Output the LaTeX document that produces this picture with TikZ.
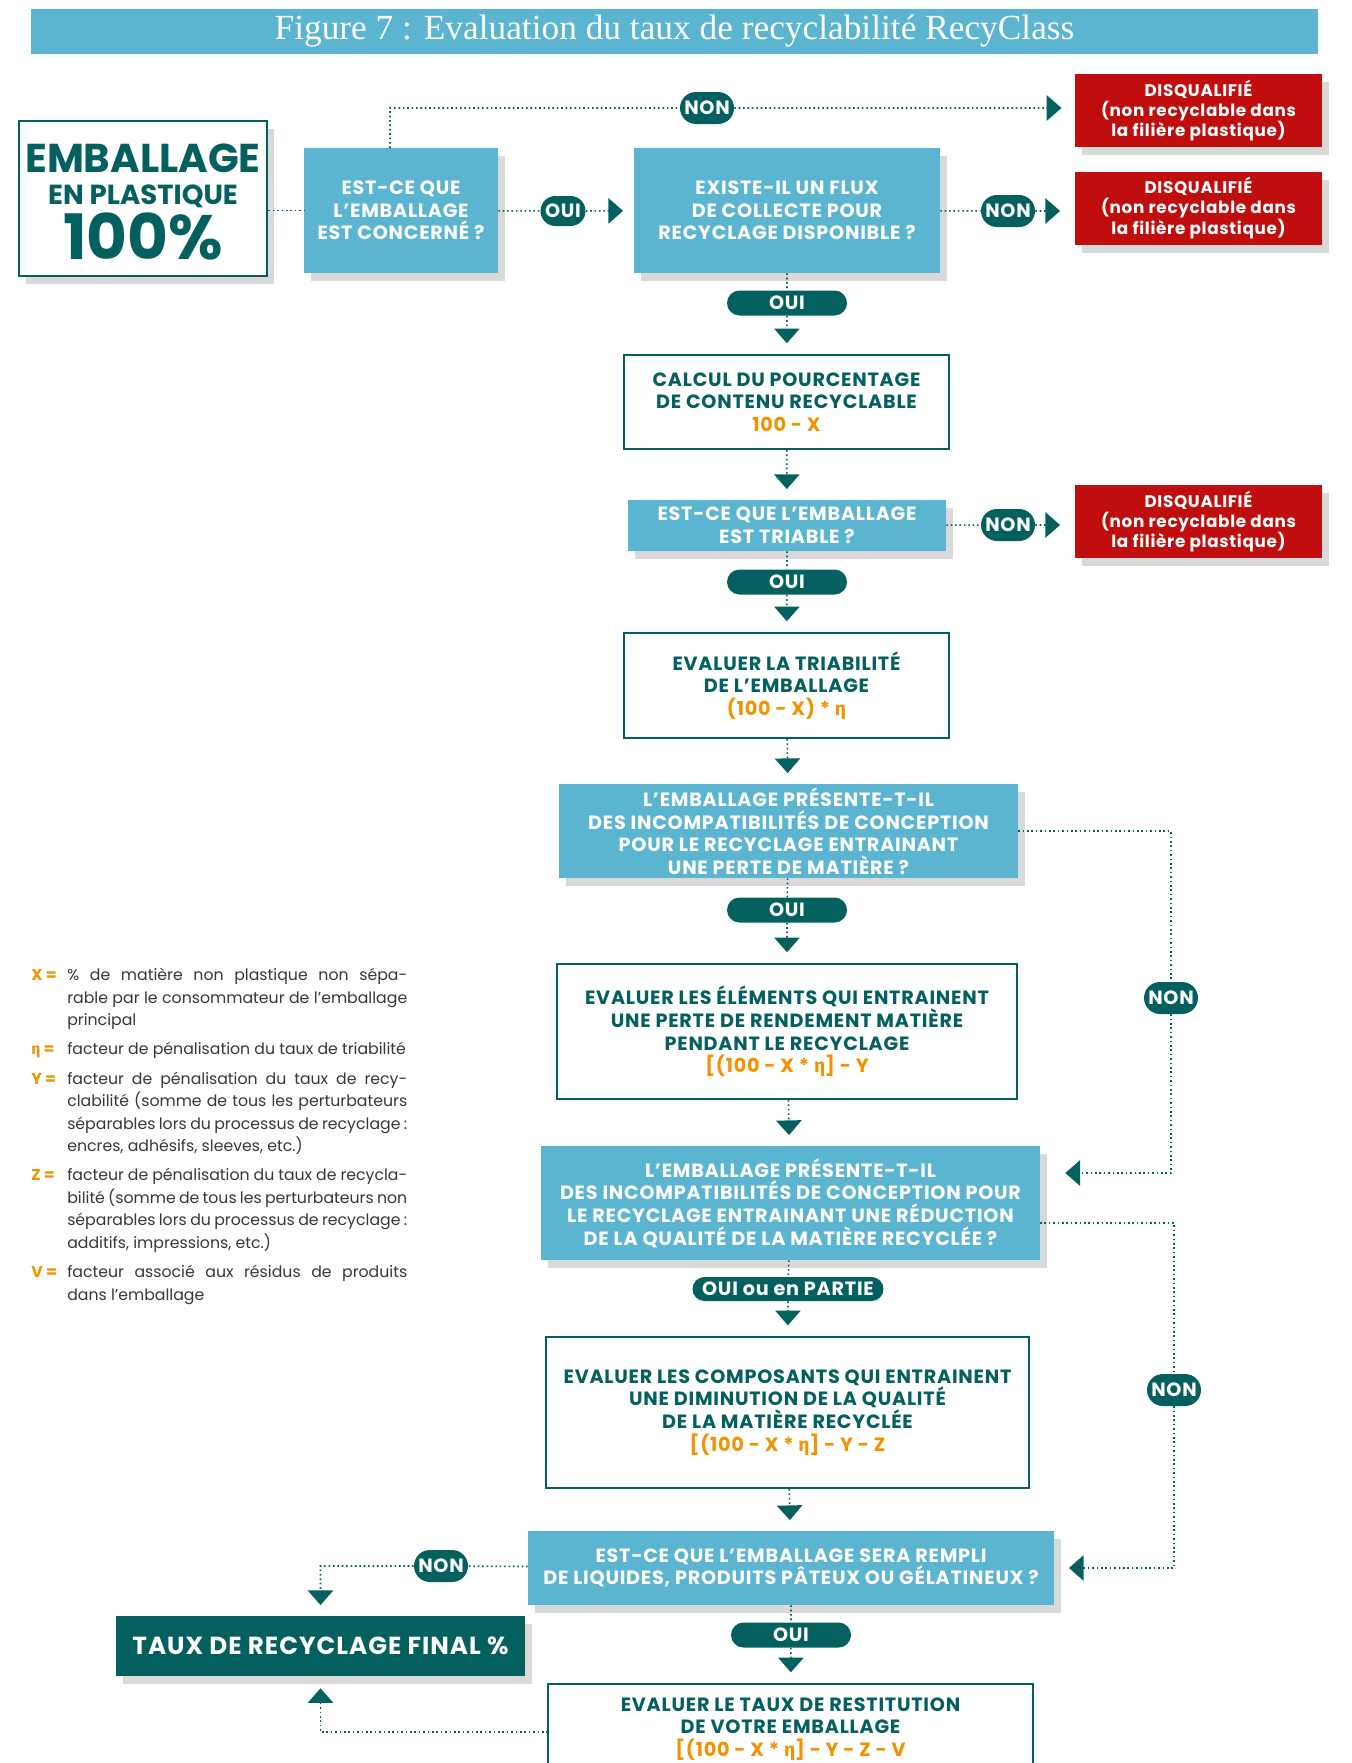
\documentclass[tikz,border=0pt]{standalone}
\usepackage{fontspec}
\setmainfont{Poppins}
\newfontfamily\titlefont{Liberation Serif}
\newfontfamily\grkfont{Fira Sans}
\newfontfamily\capsfont[LetterSpace=4]{Poppins}
\usepackage{xcolor}
\usepackage{tikz}
\usetikzlibrary{arrows.meta, positioning, calc, shadows, shapes.misc}
\definecolor{RecyBlue}{RGB}{91, 181, 209}
\definecolor{RecyTeal}{RGB}{3, 96, 95}
\definecolor{RecyRed}{RGB}{192, 13, 13}
\definecolor{RecyOrange}{RGB}{243, 146, 0}
\definecolor{RecyShadow}{RGB}{217, 217, 217}
\definecolor{RecyText}{RGB}{55, 55, 55}
\newdimen\pxu \pxu=0.75pt
\newcommand{\fml}[1]{\textcolor{RecyOrange}{#1}}
\newcommand{\etag}{{\grkfont η}}
\newcommand{\legendlab}[1]{\hangindent=27pt\hangafter=1\makebox[27pt][l]{\textcolor{RecyOrange}{\bfseries #1}}}

\begin{document}
\begin{tikzpicture}[x=0.75pt,y=-0.75pt,
  boxshadow/.style={drop shadow={shadow xshift=5.5pt, shadow yshift=-6pt, fill=RecyShadow, opacity=1}},
  qbox/.style={fill=RecyBlue, text=white, align=center, inner sep=0pt, boxshadow,
    font=\capsfont\bfseries\fontsize{14.4}{16.9}\selectfont},
  evalbox/.style={draw=RecyTeal, line width=1.6pt, fill=white, text=RecyTeal, align=center, inner sep=0pt,
    font=\capsfont\bfseries\fontsize{14.4}{16.9}\selectfont},
  disqbox/.style={fill=RecyRed, text=white, align=center, boxshadow, minimum width=247\pxu, minimum height=73\pxu,
    font=\capsfont\bfseries\fontsize{12.6}{15.2}\selectfont},
  pill/.style={rounded rectangle, fill=RecyTeal, text=white, inner sep=0pt,
    font=\capsfont\bfseries\fontsize{14.4}{15}\selectfont},
  link/.style={draw=RecyTeal, line width=1.2pt, dash pattern=on 1.2pt off 2.1pt},
  arrowend/.style={-{Triangle[width=19pt,length=11pt]}, shorten >=8pt}]
  \useasboundingbox (0,0) rectangle (1352,1763);
  \clip (0,0) rectangle (1352,1763);

  % title
  \node[fill=RecyBlue, minimum width=1287\pxu, minimum height=45\pxu, text=white,
    font=\titlefont\fontsize{26.5}{30}\selectfont] (title) at (674.5,31.5)
    {Figure 7 : Evaluation du taux de recyclabilité RecyClass};

  % start box
  \node[draw=RecyTeal, line width=2.2pt, fill=white, boxshadow, minimum width=248\pxu, minimum height=155\pxu] (emb) at (143,198.5) {};
  \node[anchor=base, text=RecyTeal, font=\bfseries\fontsize{30.2}{30}\selectfont] (embA) at (143,172) {EMBALLAGE};
  \node[anchor=base, text=RecyTeal, font=\bfseries\fontsize{20.7}{20}\selectfont] (embB) at (143,204) {EN PLASTIQUE};
  \node[anchor=base, text=RecyTeal, font=\bfseries\fontsize{47}{47}\selectfont] (embC) at (143,259) {100\%};

  % questions and steps
  \node[qbox, minimum width=194\pxu, minimum height=125\pxu] (Q1) at (401,210.5) {EST-CE QUE\\L’EMBALLAGE\\EST CONCERNÉ ?};
  \node[qbox, minimum width=306\pxu, minimum height=125\pxu] (Q2) at (787,210.5) {EXISTE-IL UN FLUX\\DE COLLECTE POUR\\RECYCLAGE DISPONIBLE ?};
  \node[disqbox] (D1) at (1198.5,110.5) {DISQUALIFIÉ\\(non recyclable dans\\la filière plastique)};
  \node[disqbox] (D2) at (1198.5,208) {DISQUALIFIÉ\\(non recyclable dans\\la filière plastique)};
  \node[evalbox, minimum width=325\pxu, minimum height=94\pxu] (calc) at (786.5,402) {CALCUL DU POURCENTAGE\\DE CONTENU RECYCLABLE\\\fml{100 - X}};
  \node[qbox, minimum width=318\pxu, minimum height=51\pxu] (Q3) at (787,525.5) {EST-CE QUE L’EMBALLAGE\\EST TRIABLE ?};
  \node[disqbox] (D3) at (1198.5,521.5) {DISQUALIFIÉ\\(non recyclable dans\\la filière plastique)};
  \node[evalbox, minimum width=325\pxu, minimum height=105\pxu] (eval1) at (786.5,685.5) {EVALUER LA TRIABILITÉ\\DE L’EMBALLAGE\\\fml{(100 - X) * \etag}};
  \node[qbox, minimum width=459\pxu, minimum height=94\pxu] (Q4) at (788.5,831) {L’EMBALLAGE PRÉSENTE-T-IL\\DES INCOMPATIBILITÉS DE CONCEPTION\\POUR LE RECYCLAGE ENTRAINANT\\UNE PERTE DE MATIÈRE ?};
  \node[evalbox, minimum width=460\pxu, minimum height=135\pxu] (eval2) at (787,1031.5) {EVALUER LES ÉLÉMENTS QUI ENTRAINENT\\UNE PERTE DE RENDEMENT MATIÈRE\\PENDANT LE RECYCLAGE\\\fml{[(100 - X * \etag] - Y}};
  \node[qbox, minimum width=499\pxu, minimum height=114\pxu] (Q5) at (790.5,1203) {L’EMBALLAGE PRÉSENTE-T-IL\\DES INCOMPATIBILITÉS DE CONCEPTION POUR\\LE RECYCLAGE ENTRAINANT UNE RÉDUCTION\\DE LA QUALITÉ DE LA MATIÈRE RECYCLÉE ?};
  \node[evalbox, minimum width=483\pxu, minimum height=151\pxu] (eval3) at (787.5,1412.5) {EVALUER LES COMPOSANTS QUI ENTRAINENT\\UNE DIMINUTION DE LA QUALITÉ\\DE LA MATIÈRE RECYCLÉE\\\fml{[(100 - X * \etag] - Y - Z}};
  \node[qbox, minimum width=526\pxu, minimum height=74\pxu] (Q6) at (791,1568) {EST-CE QUE L’EMBALLAGE SERA REMPLI\\DE LIQUIDES, PRODUITS PÂTEUX OU GÉLATINEUX ?};
  \node[fill=RecyTeal, text=white, boxshadow, minimum width=409\pxu, minimum height=60\pxu,
    font=\capsfont\bfseries\fontsize{18.5}{18}\selectfont] (final) at (320.5,1646) {TAUX DE RECYCLAGE FINAL \%};
  \node[evalbox, anchor=north, minimum width=485\pxu, minimum height=90\pxu] (eval4) at (790.5,1683) {EVALUER LE TAUX DE RESTITUTION\\DE VOTRE EMBALLAGE\\\fml{[(100 - X * \etag] - Y - Z - V}};

  % answers
  \node[pill, minimum width=45\pxu, minimum height=30\pxu] (oui0) at (563,211) {OUI};
  \node[pill, minimum width=54\pxu, minimum height=32\pxu] (non0) at (707,108) {NON};
  \node[pill, minimum width=54\pxu, minimum height=32\pxu] (non1) at (1008,211) {NON};
  \node[pill, minimum width=120\pxu, minimum height=25\pxu] (oui1) at (787,303) {OUI};
  \node[pill, minimum width=54\pxu, minimum height=32\pxu] (non2) at (1008,525) {NON};
  \node[pill, minimum width=120\pxu, minimum height=25\pxu] (oui2) at (787,582) {OUI};
  \node[pill, minimum width=120\pxu, minimum height=25\pxu] (oui3) at (787,910) {OUI};
  \node[pill, minimum width=54\pxu, minimum height=32\pxu] (non3) at (1171,998) {NON};
  \node[pill, minimum width=191\pxu, minimum height=24\pxu] (ouiP) at (788,1289) {OUI ou en PARTIE};
  \node[pill, minimum width=54\pxu, minimum height=32\pxu] (non4) at (1174,1390) {NON};
  \node[pill, minimum width=54\pxu, minimum height=32\pxu] (non5) at (441,1566) {NON};
  \node[pill, minimum width=120\pxu, minimum height=25\pxu] (oui4) at (791,1635) {OUI};

  \coordinate (out1) at (390,148);
  \coordinate (in5) at (1040,1173);
  \coordinate (out5) at (1040,1223);
  \coordinate (out8) at (548,1732);

  % connectors
  \draw[link] (emb.east |- Q1.west) -- (Q1.west);
  \draw[link, arrowend] (Q1) -- (oui0) -- (Q2);
  \draw[link, arrowend, shorten >=10pt] (out1) |- (non0) -- (non0 -| D1.west);
  \draw[link, arrowend, shorten >=11pt] (Q2) -- (non1) -- (non1 -| D2.west);
  \draw[link, arrowend] (Q2) -- (oui1) -- (calc);
  \draw[link, arrowend] (calc) -- (Q3);
  \draw[link, arrowend, shorten >=11pt] (Q3) -- (non2) -- (non2 -| D3.west);
  \draw[link, arrowend] (Q3) -- (oui2) -- (eval1);
  \draw[link, arrowend] (eval1) -- (Q4);
  \draw[link, arrowend] (Q4) -- (oui3) -- (eval2);
  \draw[link, arrowend, shorten >=19pt] (Q4.east) -| (non3) |- (in5);
  \draw[link, arrowend] (eval2) -- (Q5);
  \draw[link, arrowend] (Q5) -- (ouiP) -- (eval3);
  \draw[link, arrowend, shorten >=11pt] (out5) -| (non4) |- (Q6.east);
  \draw[link, arrowend] (eval3) -- (Q6);
  \draw[link, arrowend] (Q6) -- (oui4) -- (eval4);
  \draw[link, arrowend] (Q6) -- (non5) -| (final.north);
  \draw[link, arrowend, shorten >=9pt] (out8) -| (final.south);

  % legend
  \node[anchor=north west, text width=376\pxu, align=justify, text=RecyText, inner sep=0pt,
    font={\fontsize{11.8}{16.9}\selectfont\parindent=0pt\parskip=5pt\emergencystretch=2em}] (legend) at (31,968) {%
    \legendlab{X =}\% de matière non plastique non sépa-\linebreak rable par le consommateur de l’emballage\linebreak principal\par
    \legendlab{\etag\ =}facteur de pénalisation du taux de triabilité\par
    \legendlab{Y =}facteur de pénalisation du taux de recy-\linebreak clabilité (somme de tous les perturbateurs\linebreak séparables lors du processus de recyclage~:\linebreak encres, adhésifs, sleeves, etc.)\par
    \legendlab{Z =}facteur de pénalisation du taux de recycla-\linebreak bilité (somme de tous les perturbateurs non\linebreak séparables lors du processus de recyclage~:\linebreak additifs, impressions, etc.)\par
    \legendlab{V =}facteur associé aux résidus de produits\linebreak dans l’emballage\par};
\end{tikzpicture}
\end{document}
